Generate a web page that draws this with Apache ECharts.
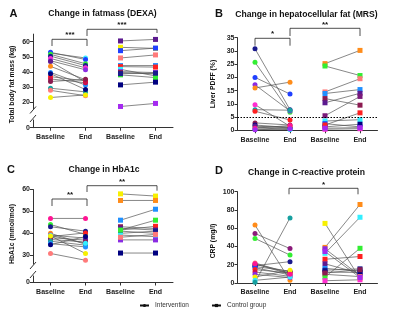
<!DOCTYPE html>
<html><head><meta charset="utf-8">
<script src="https://cdn.jsdelivr.net/npm/echarts@6/dist/echarts.min.js"></script>
<style>html,body{margin:0;padding:0;background:#fff}#c{width:400px;height:312px}</style>
</head><body><div id="c"></div>
<script>
const categories = ['Baseline', 'End', 'Baseline', 'End'];

// Panel A: total body fat mass (kg)
const fatIntBase = [52.5, 53.0, 51.7, 50.5, 49.0, 47.5, 47.0, 43.8, 39.8, 37.0, 35.5, 33.8, 29.4, 28.0, 23.3, 39.0];
const fatIntEnd  = [49.3, 48.3, 45.5, 44.3, 42.8, 41.5, 33.5, 35.0, 31.5, 34.2, 33.0, 35.3, 27.0, 24.5, 25.0, 28.5];
const fatCtlBase = [60.5, 56.3, 54.1, 49.3, 44.3, 43.6, 41.8, 40.3, 39.7, 38.2, 39.0, 31.6, 17.4];
const fatCtlEnd  = [61.5, 55.6, 55.8, 51.3, 44.3, 43.3, 37.5, 39.7, 38.8, 36.4, 39.3, 33.4, 19.4];

// Panel B: liver PDFF (%)
const pdffIntBase = [30.8, 25.7, 20.0, 17.2, 16.0, 9.7, 7.8, 7.2, 2.8, 2.0, 1.2, 1.0, 0.4, 1.6, 0.8, 0.2];
const pdffIntEnd  = [7.8, 6.8, 13.7, 7.3, 18.2, 1.5, 7.6, 3.9, 2.0, 1.0, 1.3, 0.3, 0.5, 0.9, 1.8, 0.6];
const pdffCtlBase = [25.2, 24.3, 14.5, 13.9, 12.0, 10.4, 5.5, 3.5, 2.5, 1.3, 0.4, 2.0, 0.8];
const pdffCtlEnd  = [30.2, 20.7, 19.5, 15.4, 9.5, 14.0, 12.8, 4.0, 1.3, 2.3, 0.6, 6.6, 1.0];
const pdffCutoff = 5;

// Panel C: HbA1c (mmol/mol)
const hbaIntBase = [46.8, 44.0, 43.0, 40.0, 39.2, 38.5, 38.0, 37.2, 36.4, 35.3, 34.8, 39.0, 38.8, 30.8];
const hbaIntEnd  = [46.8, 39.5, 41.0, 35.0, 37.8, 40.2, 36.9, 36.0, 34.6, 33.8, 38.5, 35.5, 30.8, 27.7];
const hbaCtlBase = [58.0, 55.0, 46.0, 43.0, 41.5, 42.3, 41.0, 40.0, 39.2, 37.0, 31.0, 41.5, 38.2];
const hbaCtlEnd  = [57.0, 55.0, 51.0, 42.2, 43.2, 41.5, 40.0, 41.0, 38.5, 37.0, 31.0, 46.0, 39.5];

// Panel D: CRP (mg/l)
const crpIntBase = [63.4, 54.2, 48.8, 22.0, 20.5, 19.0, 18.0, 16.8, 14.7, 12.1, 9.5, 6.6, 2.9, 0.7, 21.0];
const crpIntEnd  = [2.9, 37.7, 30.6, 10.3, 12.1, 23.4, 13.0, 8.8, 11.0, 7.3, 5.9, 13.9, 6.5, 71.3, 9.5];
const crpCtlBase = [65.3, 39.0, 37.5, 32.5, 26.0, 21.0, 16.0, 14.0, 12.0, 9.5, 6.5, 2.5, 11.0, 34.5];
const crpCtlEnd  = [5.0, 86.0, 8.0, 72.0, 29.0, 10.5, 13.0, 15.5, 11.5, 7.0, 38.0, 3.5, 14.5, 6.0];

const legendNames = ['Intervention', 'Control group'];

// colours per subject (style, kept apart from data)
const cIntA = ['#33eeff','#2040ff','#33ee33','#1a1a8c','#ff2fd0','#8a2be2','#5c1a90','#ff8c1a','#2090ff','#ff2020','#d0104a','#8b1a50','#17a0a0','#ff7a7a','#f7f000','#000080'];
const cCtlA = ['#5c1a90','#f7f000','#2040ff','#ff7a7a','#2090ff','#ff2020','#33eeff','#8a2be2','#8b1a50','#33ee33','#1a1a8c','#000080','#a52af0'];
const cIntB = ['#1a1a8c','#33ee33','#2040ff','#8a2be2','#ff8c1a','#ff2fd0','#17a0a0','#ff2020','#8b1a50','#000080','#f7f000','#33eeff','#2090ff','#5c1a90','#ff1493','#a52af0'];
const cCtlB = ['#ff8c1a','#33ee33','#ff7a7a','#2090ff','#8b1a50','#5c1a90','#7a1a7a','#33eeff','#2040ff','#000080','#ff2fd0','#ff2020','#a52af0'];
const cIntC = ['#ff1493','#33ee33','#1a1a8c','#ff8c1a','#8a2be2','#ff2020','#5c1a90','#8b1a50','#17a0a0','#2090ff','#000080','#33eeff','#f7f000','#ff7a7a'];
const cCtlC = ['#f7f000','#ff8c1a','#2090ff','#8b1a50','#ff2020','#5c1a90','#7a1a7a','#1a1a8c','#33eeff','#8a2be2','#000080','#33ee33','#ff7a7a'];
const cIntD = ['#ff8c1a','#8b1a7a','#33ee33','#ff7a7a','#8b1a50','#1a1a8c','#000080','#2040ff','#ff2020','#d0104a','#8a2be2','#f7f000','#33eeff','#17a0a0','#ff1493'];
const cCtlD = ['#f7f000','#ff8c1a','#8a2be2','#33eeff','#ff2020','#5c1a90','#2090ff','#1a1a8c','#000080','#ff7a7a','#33ee33','#ff2fd0','#8b1a50','#a52af0'];

const FONT = 'Liberation Sans, Arial, sans-serif';
const AX = '#333';

function subjectSeries(axisIdx, base, end, colors, control) {
  const x0 = control ? 2 : 0, x1 = control ? 3 : 1;
  return base.map((b, i) => ({
    type: 'line', name: 's' + axisIdx + (control ? 'c' : 'i') + i,
    xAxisIndex: axisIdx, yAxisIndex: axisIdx,
    data: [[x0, b], [x1, end[i]]],
    symbol: control ? 'rect' : 'circle', symbolSize: 5,
    lineStyle: { color: '#555', width: 0.7 },
    itemStyle: { color: colors[i] },
    silent: true, animation: false
  }));
}

function yAx(min, max, labels) {
  return {
    type: 'value', min: min, max: max,
    axisLine: { show: true, lineStyle: { color: AX, width: 1 } },
    axisTick: { show: true, length: 3, lineStyle: { color: AX }, customValues: labels },
    axisLabel: { show: true, fontSize: 7, fontWeight: 'bold', color: '#222', fontFamily: FONT, margin: 3, customValues: labels },
    splitLine: { show: false }
  };
}
function xAx(show) {
  return {
    type: 'category', data: categories, boundaryGap: true, show: show,
    axisLine: { show: true, lineStyle: { color: AX, width: 1 } },
    axisTick: { show: true, alignWithLabel: true, interval: 0, length: 3, lineStyle: { color: AX } },
    axisLabel: { interval: 0, fontSize: 7, fontWeight: 'bold', color: '#222', fontFamily: FONT, margin: 6, hideOverlap: false },
    splitLine: { show: false }
  };
}

const grids = [
  { left: 33, top: 34.1, width: 140, height: 74.5 },     // A main
  { left: 33, top: 120, width: 140, height: 7.7 },       // A lower (0)
  { left: 237.5, top: 37.7, width: 140, height: 92.6 },  // B
  { left: 33, top: 189.5, width: 140, height: 74.5 },    // C main
  { left: 33, top: 276, width: 140, height: 6.5 },       // C lower (0)
  { left: 237.5, top: 191.7, width: 140, height: 91.3 }  // D
];
const xAxes = [xAx(false), xAx(true), xAx(true), xAx(false), xAx(true), xAx(true)].map((a, i) => Object.assign(a, { gridIndex: i }));
const yAxes = [
  yAx(16, 65, [20, 30, 40, 50, 60]),
  yAx(0, 5, [0]),
  yAx(0, 35, [0, 5, 10, 15, 20, 25, 30, 35]),
  yAx(26, 60, [30, 40, 50, 60]),
  yAx(0, 3.4, [0]),
  yAx(0, 100, [0, 20, 40, 60, 80, 100])
].map((a, i) => Object.assign(a, { gridIndex: i }));

let series = [];
series = series.concat(subjectSeries(0, fatIntBase, fatIntEnd, cIntA, false));
series = series.concat(subjectSeries(0, fatCtlBase, fatCtlEnd, cCtlA, true));
series = series.concat(subjectSeries(2, pdffIntBase, pdffIntEnd, cIntB, false));
series = series.concat(subjectSeries(2, pdffCtlBase, pdffCtlEnd, cCtlB, true));
series = series.concat(subjectSeries(3, hbaIntBase, hbaIntEnd, cIntC, false));
series = series.concat(subjectSeries(3, hbaCtlBase, hbaCtlEnd, cCtlC, true));
series = series.concat(subjectSeries(5, crpIntBase, crpIntEnd, cIntD, false));
series = series.concat(subjectSeries(5, crpCtlBase, crpCtlEnd, cCtlD, true));
// cutoff line in panel B
series.push({
  type: 'line', name: 'cutoff', xAxisIndex: 2, yAxisIndex: 2, data: [], silent: true, animation: false,
  markLine: { silent: true, symbol: 'none', label: { show: false },
    lineStyle: { type: [1.5, 1.5], color: '#000', width: 1 }, data: [{ yAxis: pdffCutoff }] }
});
// legend entries
series.push({ type: 'line', name: legendNames[0], xAxisIndex: 0, yAxisIndex: 0, data: [], symbol: 'circle', symbolSize: 3.5,
  itemStyle: { color: '#111' }, lineStyle: { color: '#111', width: 0.8 } });
series.push({ type: 'line', name: legendNames[1], xAxisIndex: 0, yAxisIndex: 0, data: [], symbol: 'rect', symbolSize: 3.5,
  itemStyle: { color: '#111' }, lineStyle: { color: '#111', width: 0.8 } });

function txt(x, y, text, size, opts) {
  return Object.assign({ type: 'text', x: x, y: y, silent: true,
    style: { text: text, x: 0, y: 0, font: 'bold ' + size + 'px ' + FONT, fill: '#111', align: 'center', verticalAlign: 'middle' } }, opts || {});
}
function vtxt(x, y, text, size) {
  return txt(x, y, text, size, { rotation: Math.PI / 2 });
}
function bracket(pts) {
  return { type: 'polyline', silent: true, shape: { points: pts }, style: { stroke: '#222', lineWidth: 0.8, fill: null } };
}
function slash(cx, cy) {
  return { type: 'line', silent: true, shape: { x1: cx - 3, y1: cy + 3.5, x2: cx + 3, y2: cy - 3.5 }, style: { stroke: AX, lineWidth: 1 } };
}

const graphics = [
  txt(13.5, 13.5, 'A', 11), txt(219, 14, 'B', 11), txt(11, 170, 'C', 11), txt(219, 171, 'D', 11),
  txt(102.5, 13.5, 'Change in fatmass (DEXA)', 8.6),
  txt(306.5, 15, 'Change in hepatocellular fat (MRS)', 8.6),
  txt(104, 170, 'Change in HbA1c', 8.6),
  txt(306.5, 173, 'Change in C-reactive protein', 8.6),
  vtxt(12.5, 84.5, 'Total body fat mass (kg)', 6.8),
  vtxt(213, 84, 'Liver PDFF (%)', 6.8),
  vtxt(12.5, 234, 'HbA1c (mmol/mol)', 6.8),
  vtxt(213, 241, 'CRP (mg/l)', 6.8),
  bracket([[52, 46], [52, 39.3], [87, 39.3], [87, 46]]), txt(70, 35, '***', 8),
  bracket([[87, 36], [87, 29.3], [157, 29.3], [157, 33]]), txt(122, 25, '***', 8),
  bracket([[255, 45.7], [255, 38.3], [290, 38.3], [290, 45.7]]), txt(272.5, 34, '*', 8),
  bracket([[290, 36], [290, 28.3], [360, 28.3], [360, 36]]), txt(325, 24.5, '**', 8),
  bracket([[52, 206], [52, 199], [87, 199], [87, 206]]), txt(70, 194.5, '**', 8),
  bracket([[87, 192], [87, 185.7], [157, 185.7], [157, 190.7]]), txt(122, 181.5, '**', 8),
  bracket([[289, 194.3], [289, 188.3], [358, 188.3], [358, 194.3]]), txt(323.5, 184.5, '*', 8),
  slash(33, 110), slash(33, 118.5),
  slash(33, 265.5), slash(33, 274.5)
];

const chart = echarts.init(document.getElementById('c'), null, { renderer: 'canvas' });
chart.setOption({
  backgroundColor: '#fff',
  animation: false,
  textStyle: { fontFamily: FONT },
  grid: grids,
  xAxis: xAxes,
  yAxis: yAxes,
  legend: {
    data: legendNames, left: 139, top: 302, itemWidth: 9, itemHeight: 4, itemGap: 22, padding: 0,
    textStyle: { fontSize: 6.5, color: '#333', fontFamily: FONT, padding: [0, 0, 0, 1] }, selectedMode: false
  },
  series: series,
  graphic: graphics
});
</script>
</body></html>
